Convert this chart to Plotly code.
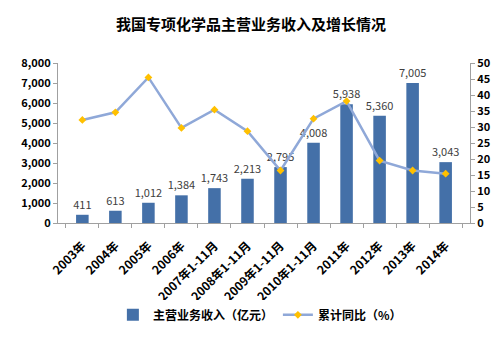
import plotly.graph_objects as go

categories = ["2003年", "2004年", "2005年", "2006年", "2007年1-11月", "2008年1-11月",
              "2009年1-11月", "2010年1-11月", "2011年", "2012年", "2013年", "2014年"]
revenue = [411, 613, 1012, 1384, 1743, 2213, 2795, 4008, 5938, 5360, 7005, 3043]
growth = [32.2, 34.6, 45.5, 29.7, 35.4, 28.7, 16.4, 32.6, 38.1, 19.5, 16.4, 15.4]
revenue_labels = [f"{v:,}" for v in revenue]

FONT = "Noto Sans CJK SC"
BAR_COLOR = "#4470A8"
LINE_COLOR = "#8FA8D8"
MARKER_COLOR = "#FFC000"

fig = go.Figure()
fig.add_trace(go.Bar(
    x=categories, y=revenue, name="主营业务收入（亿元）",
    marker=dict(color=BAR_COLOR, line=dict(width=0)),
    text=revenue_labels, textposition="outside", cliponaxis=False,
    constraintext="none",
    textfont=dict(family=FONT, size=11, color="#404040"),
    yaxis="y",
))
fig.add_trace(go.Scatter(
    x=categories, y=growth, name="累计同比（%）", mode="lines+markers",
    line=dict(color=LINE_COLOR, width=2.5),
    marker=dict(symbol="diamond", size=6, color=MARKER_COLOR),
    yaxis="y2",
))

fig.update_layout(
    width=502, height=342, autosize=False,
    margin=dict(l=58, r=32, t=63, b=110),
    paper_bgcolor="white", plot_bgcolor="white",
    bargap=0.62,
    showlegend=True,
    title=dict(text="<b>我国专项化学品主营业务收入及增长情况</b>", x=0.5, xanchor="center",
               y=1 - 25 / 342, yanchor="middle",
               font=dict(family=FONT, size=15, color="#000000")),
    xaxis=dict(
        type="category", tickangle=-45, showline=True, linecolor="#A0A0A0", linewidth=1,
        ticks="outside", ticklen=4, tickcolor="#A0A0A0", tickson="boundaries",
        ticklabelstandoff=10,
        tickfont=dict(family=FONT, size=12, color="#000000", weight="bold"),
        showgrid=False,
    ),
    yaxis=dict(
        range=[0, 8000], dtick=1000, tickformat=",", showline=True, linecolor="#A0A0A0",
        ticks="outside", ticklen=4, tickcolor="#A0A0A0", showgrid=False, zeroline=False,
        tickfont=dict(family=FONT, size=11, color="#000000", weight="bold"),
    ),
    yaxis2=dict(
        range=[0, 50], dtick=5, overlaying="y", side="right", showline=True,
        linecolor="#A0A0A0", ticks="outside", ticklen=4, tickcolor="#A0A0A0",
        showgrid=False, zeroline=False,
        tickfont=dict(family=FONT, size=11, color="#000000", weight="bold"),
    ),
    legend=dict(orientation="h", x=0.49, xanchor="center", y=-(329 - 232) / 169, yanchor="middle",
                font=dict(family=FONT, size=12, color="#000000", weight="bold"),
                itemwidth=30),
)

fig.write_html("out.html")
